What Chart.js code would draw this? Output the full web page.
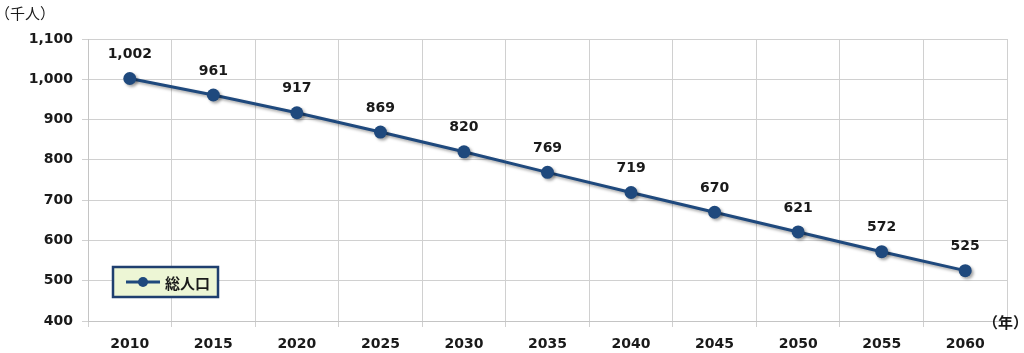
<!DOCTYPE html>
<html>
<head>
<meta charset="utf-8">
<script src="https://cdn.jsdelivr.net/npm/chart.js@4/dist/chart.umd.min.js"></script>
<style>
  html, body { margin: 0; padding: 0; background: #fff; }
  #wrap { width: 1024px; height: 353px; position: relative; }
</style>
</head>
<body>
<div id="wrap"><canvas id="popChart"></canvas></div>
<script>
const years = ['2010', '2015', '2020', '2025', '2030', '2035', '2040', '2045', '2050', '2055', '2060'];
const population = [1002, 961, 917, 869, 820, 769, 719, 670, 621, 572, 525];
const seriesName = '総人口';
const yUnit = '（千人）';
const xUnit = '（年）';

const lineColor = '#1F497D';
const textColor = '#1A1A1A';
const numFont = 'bold 14px "DejaVu Sans"';
const jpFont = '"Noto Sans CJK JP"';

// value labels above each point + the shadow under the line
const valueLabels = {
    id: 'valueLabels',
    beforeDatasetDraw(chart) {
        const ctx = chart.ctx;
        ctx.save();
        ctx.shadowColor = 'rgba(0,0,0,0.35)';
        ctx.shadowBlur = 3;
        ctx.shadowOffsetX = 2;
        ctx.shadowOffsetY = 2;
    },
    afterDatasetDraw(chart) {
        chart.ctx.restore();
    },
    afterDatasetsDraw(chart) {
        const ctx = chart.ctx;
        const meta = chart.getDatasetMeta(0);
        ctx.save();
        ctx.font = numFont;
        ctx.fillStyle = textColor;
        ctx.textAlign = 'center';
        ctx.textBaseline = 'middle';
        meta.data.forEach((pt, i) => {
            ctx.fillText(population[i].toLocaleString('en-US'), pt.x, pt.y - 24);
        });
        ctx.restore();
    }
};

// unit captions and the boxed legend inside the plot
const extras = {
    id: 'extras',
    afterDraw(chart) {
        const ctx = chart.ctx;
        const area = chart.chartArea;
        ctx.save();
        ctx.fillStyle = textColor;
        ctx.textBaseline = 'middle';
        ctx.font = '15px ' + jpFont;
        ctx.textAlign = 'left';
        ctx.fillText(yUnit, -5, 13);
        ctx.font = 'bold 15px ' + jpFont;
        ctx.fillText(xUnit, area.right - 24, area.bottom + 1);

        // legend box
        const bx = area.left + 25, by = area.bottom - 54, bw = 105, bh = 30;
        ctx.fillStyle = '#EDF6D5';
        ctx.fillRect(bx, by, bw, bh);
        ctx.strokeStyle = '#1F3F6F';
        ctx.lineWidth = 2.5;
        ctx.strokeRect(bx, by, bw, bh);
        const cy = by + bh / 2;
        ctx.strokeStyle = lineColor;
        ctx.lineWidth = 3;
        ctx.beginPath();
        ctx.moveTo(bx + 13, cy);
        ctx.lineTo(bx + 47, cy);
        ctx.stroke();
        ctx.fillStyle = lineColor;
        ctx.beginPath();
        ctx.arc(bx + 30, cy, 5, 0, Math.PI * 2);
        ctx.fill();
        ctx.fillStyle = textColor;
        ctx.font = 'bold 15px ' + jpFont;
        ctx.fillText(seriesName, bx + 52, cy + 1);
        ctx.restore();
    }
};

new Chart(document.getElementById('popChart').getContext('2d'), {
    type: 'line',
    data: {
        labels: years,
        datasets: [{
            label: seriesName,
            data: population,
            borderColor: lineColor,
            backgroundColor: lineColor,
            borderWidth: 3,
            pointRadius: 6.5,
            pointHoverRadius: 6.5,
            pointBorderWidth: 0,
            tension: 0,
            fill: false
        }]
    },
    options: {
        responsive: true,
        maintainAspectRatio: false,
        animation: false,
        locale: 'en-US',
        layout: { padding: { left: 0, right: 17, top: 39, bottom: 0 } },
        plugins: {
            legend: { display: false },
            tooltip: { enabled: false }
        },
        scales: {
            x: {
                offset: true,
                grid: { offset: true, color: '#D0D0D0', tickLength: 6, drawOnChartArea: true },
                border: { color: '#C4C4C4' },
                ticks: { font: { family: 'DejaVu Sans', size: 14, weight: 'bold' }, color: textColor, padding: 9 },
                afterFit(scale) { scale.height = 32; }
            },
            y: {
                min: 400,
                max: 1100,
                ticks: {
                    stepSize: 100,
                    font: { family: 'DejaVu Sans', size: 14, weight: 'bold' },
                    color: textColor,
                    padding: 9
                },
                grid: { color: '#D0D0D0', tickLength: 6 },
                border: { color: '#C4C4C4' },
                afterFit(scale) { scale.width = 88; }
            }
        }
    },
    plugins: [valueLabels, extras]
});
</script>
</body>
</html>
